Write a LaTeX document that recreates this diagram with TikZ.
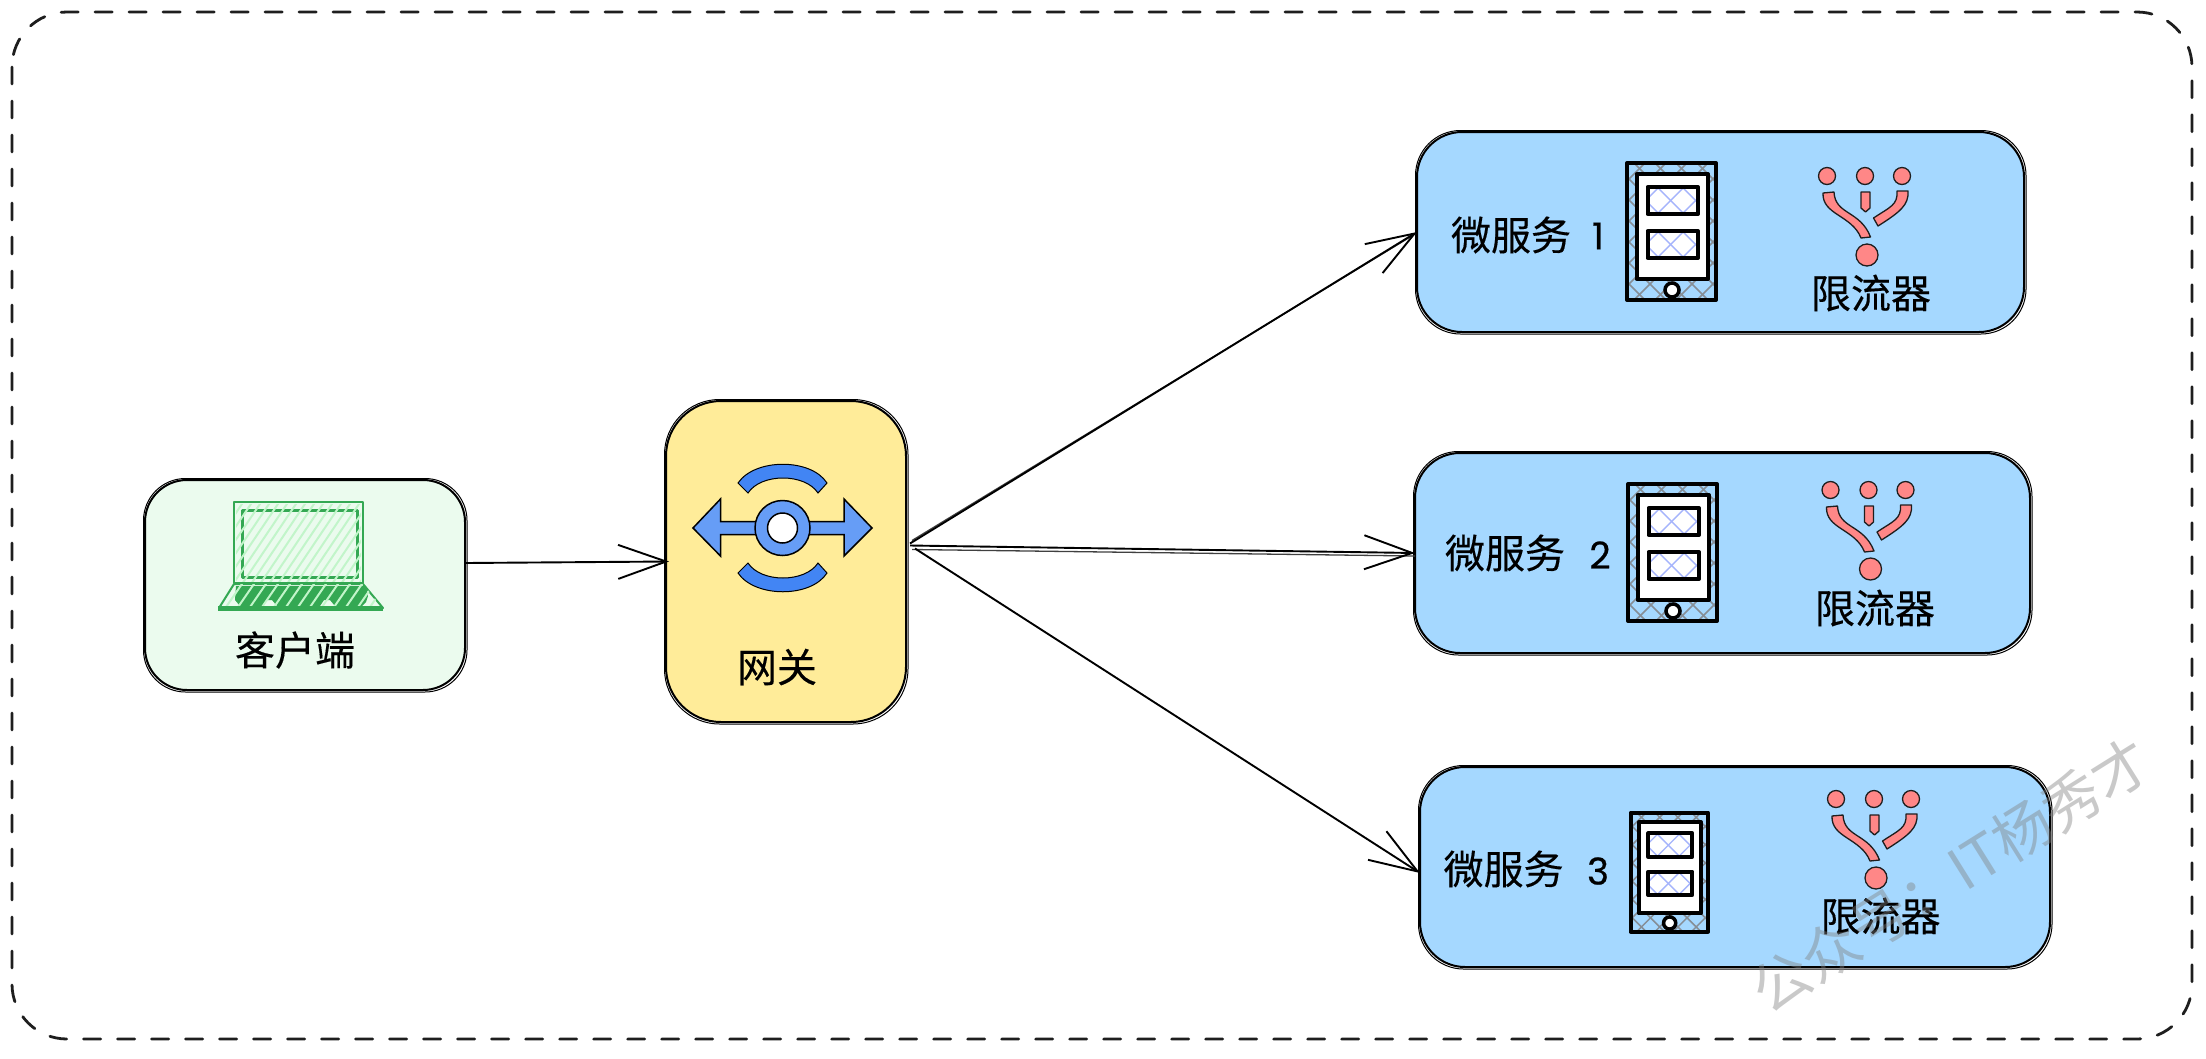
\documentclass[tikz,border=0pt]{standalone}
\usepackage{fontspec}
\setmainfont{Noto Sans CJK SC}[FakeBold=0.25]
\newfontfamily\wmfont{Noto Sans CJK SC}
\newfontfamily\digitfont{Poppins}[FakeBold=0.6]
\usetikzlibrary{arrows.meta}
\definecolor{clientfill}{HTML}{EBFBEE}
\definecolor{gwfill}{HTML}{FFEC99}
\definecolor{svcfill}{HTML}{A5D8FF}
\definecolor{lapgreen}{HTML}{34A853}
\definecolor{lappale}{HTML}{C2F5CA}
\definecolor{bluedark}{HTML}{4285F4}
\definecolor{bluelight}{HTML}{669DF6}
\definecolor{limpink}{HTML}{FF8787}
\definecolor{inkblack}{HTML}{1E1E1E}
\definecolor{gridgrey}{HTML}{868E96}
\definecolor{winhatch}{HTML}{A5B4FC}
\tikzset{
  box/.style={draw=black,line width=2pt,inner sep=0pt,outer sep=0pt},
  sketchline/.style={draw=black,line width=1pt},
  txtlabel/.style={font=\fontsize{40}{40}\selectfont,text=black,inner sep=0pt},
  digitlabel/.style={font=\fontsize{37}{37}\selectfont\digitfont,text=black,inner sep=0pt},
  conn/.style={draw=black,line width=1.9pt,-{Straight Barb[length=48pt,width=34pt,line width=1.9pt]}},
  connghost/.style={draw=black!75,line width=1.3pt},
  limshape/.style={fill=limpink,draw=inkblack,line width=1.3pt,line join=round},
  wmstyle/.style={text=gray,opacity=0.42,font=\fontsize{58}{58}\selectfont\wmfont,inner sep=0pt}
}
\newcommand{\sketchbox}[2]{%
  \draw[sketchline,rounded corners=#2pt] ([xshift=-1.5pt,yshift=1.5pt]#1.north west) rectangle ([xshift=2pt,yshift=-2pt]#1.south east);
}
\newcommand{\svcicon}[3]{%
  \begin{scope}[shift={(#1,#2)},scale=#3]
    \begin{scope}
      \clip (0,0) rectangle (89,137);
      \foreach \k in {-140,-119,...,90} {
        \draw[gridgrey,line width=1.5pt] (\k,0) -- ++(137,137);
        \draw[gridgrey,line width=1.5pt] (\k,137) -- ++(137,-137);
      }
    \end{scope}
    \draw[black,line width=4pt,line join=round] (0,0) rectangle (89,137);
    \draw[black,fill=white,line width=4pt,line join=round] (9.5,11) rectangle (81,116);
    \foreach \wy in {24,68} {
      \begin{scope}
        \clip (20.5,\wy) rectangle ++(50.5,27);
        \foreach \k in {-20,5,...,70} {
          \draw[winhatch,line width=1.4pt] (\k,\wy) -- ++(27,27);
          \draw[winhatch,line width=1.4pt] (\k,\wy+27) -- ++(27,-27);
        }
      \end{scope}
      \draw[black,line width=4pt,line join=round] (20.5,\wy) rectangle ++(50.5,27);
    }
    \draw[black,fill=white,line width=3.5pt] (45,127) circle (7);
  \end{scope}
}
\newcommand{\limiter}[2]{%
  \begin{scope}[shift={(#1,#2)}]
    \foreach \dx in {1827,1865,1902} { \draw[limshape] (\dx,176) circle (8.5); }
    \draw[limshape] (1867,255) circle (11);
    \draw[limshape] (1823,193) -- (1834,192) .. controls (1835,215) and (1860,210) .. (1870.5,237) -- (1861,238) .. controls (1852,215) and (1822,215) .. (1823,193) -- cycle;
    \draw[limshape] (1861,192) -- (1870,192) -- (1870,208) -- (1865.5,212) -- (1861,208) -- cycle;
    \draw[limshape] (1897,191) -- (1908,191) .. controls (1909,205) and (1900,212) .. (1878,226) -- (1873.5,218) .. controls (1890,207) and (1898,205) .. (1897,191) -- cycle;
  \end{scope}
}
\begin{document}
\begin{tikzpicture}[x=1pt,y=-1pt]
\useasboundingbox (0,0) rectangle (2206,1058);
\fill[white] (0,0) rectangle (2206,1058);
% outer frame
\draw[inkblack,line width=2.8pt,line cap=round,dash pattern=on 17pt off 17pt,rounded corners=55pt] (12,12) rectangle (2192,1039);
% boxes
\node[box,fill=clientfill,rounded corners=42pt,minimum width=320pt,minimum height=210pt] (client) at (305,585) {};
\sketchbox{client}{42}
\node[box,fill=gwfill,rounded corners=55pt,minimum width=240pt,minimum height=321pt] (gw) at (786,561.5) {};
\sketchbox{gw}{55}
\node[box,fill=svcfill,rounded corners=45pt,minimum width=607pt,minimum height=200pt] (s1) at (1720.5,232) {};
\sketchbox{s1}{45}
\node[box,fill=svcfill,rounded corners=45pt,minimum width=615pt,minimum height=200pt] (s2) at (1722.5,553) {};
\sketchbox{s2}{45}
\node[box,fill=svcfill,rounded corners=45pt,minimum width=630pt,minimum height=200pt] (s3) at (1735,867) {};
\sketchbox{s3}{45}
% laptop
\draw[lapgreen,line width=2pt,line join=round] (234,502) rectangle (363,583);
\draw[lapgreen,line width=3pt,line join=round] (242,510) rectangle (357,577);
\fill[lapgreen] (236,586) -- (366,586) -- (368,596) -- (366,602) -- (362,606) -- (335,606) -- (330,600) -- (324,600) -- (320,606) -- (277,606) -- (272,600) -- (266,600) -- (262,606) -- (240,606) -- (235,600) -- cycle;
\draw[lapgreen,line width=2pt,line join=round] (234,584) -- (363,584) -- (383,608) -- (219,608) -- cycle;
\begin{scope}
  \clip (236,504) rectangle (361,581);
  \foreach \k in {130,139,...,400} { \draw[lappale,line width=2pt] (\k,590) -- ++(62,-92); }
\end{scope}
\begin{scope}
  \clip (234,584) -- (363,584) -- (381,606) -- (221,606) -- cycle;
  \foreach \k in {200,212,...,380} { \draw[lappale,line width=2pt] (\k,610) -- ++(20,-29); }
\end{scope}
\fill[lapgreen] (218,606) rectangle (383,611);
% gateway icon
\draw[fill=bluelight,draw=black,line width=1.5pt,line join=miter] (693,528) -- (720.5,499) -- (720.5,521.5) -- (844,521.5) -- (844,499) -- (872,528) -- (844,556) -- (844,534.5) -- (720.5,534.5) -- (720.5,556) -- cycle;
\draw[fill=bluelight,draw=black,line width=1.5pt] (782.5,528) circle (27.5);
\draw[fill=white,draw=black,line width=1.5pt] (782.5,528) circle (15);
\draw[fill=bluedark,draw=black,line width=1pt] (738,483) .. controls (755,458) and (811,458) .. (827,483) -- (818,493) .. controls (805,473) and (761,473) .. (748,493) -- cycle;
\draw[fill=bluedark,draw=black,line width=1pt] (738,573) .. controls (755,598) and (811,598) .. (827,573) -- (818,563) .. controls (805,583) and (761,583) .. (748,563) -- cycle;
% service icons
\svcicon{1627}{163}{1}
\svcicon{1628}{484}{1}
\svcicon{1630.5}{812.5}{0.87}
\limiter{0}{0}
\limiter{3.5}{314}
\limiter{9}{623}
% labels
\node[txtlabel] (tclient) at (295,650) {客户端};
\node[txtlabel] (tgw) at (777,667) {网关};
\node[txtlabel] (t1) at (1511,235) {微服务};
\node[digitlabel] (d1) at (1598,236) {1};
\node[txtlabel] (t2) at (1505,553) {微服务};
\node[digitlabel] (d2) at (1600,555) {2};
\node[txtlabel] (t3) at (1503.6,869) {微服务};
\node[digitlabel] (d3) at (1598,871) {3};
\node[txtlabel] (l1) at (1871,293) {限流器};
\node[txtlabel] (l2) at (1875,608) {限流器};
\node[txtlabel] (l3) at (1880.6,916) {限流器};
% connectors
\draw[conn] ([yshift=22pt]client.east) -- ([xshift=3pt]gw.west);
\draw[connghost] ([xshift=6pt,yshift=21pt]gw.east) -- ([xshift=-2pt,yshift=-2pt]s1.west);
\draw[conn] ([xshift=4pt,yshift=18pt]gw.east) -- (s1.west);
\draw[connghost] ([xshift=6pt,yshift=12pt]gw.east) -- ([yshift=-3pt]s2.west);
\draw[conn] ([xshift=4pt,yshift=16pt]gw.east) -- (s2.west);
\draw[conn] ([xshift=9pt,yshift=13pt]gw.east) -- ([yshift=-6pt]s3.west);
% watermark
\node[wmstyle,rotate=32] (wm) at (1951,875) {公众号：IT杨秀才};
\end{tikzpicture}
\end{document}
